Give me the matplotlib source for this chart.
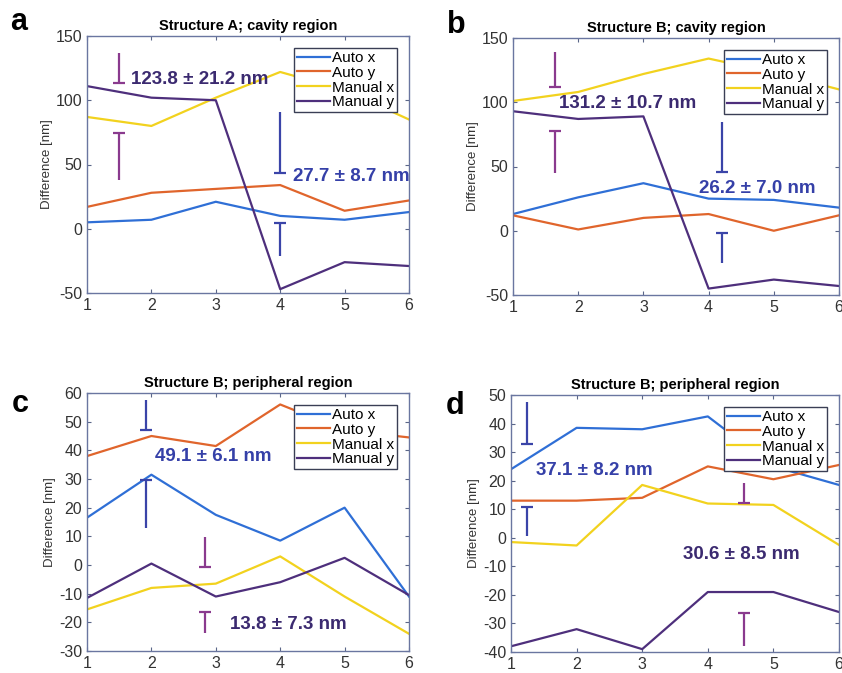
import matplotlib
matplotlib.use("Agg")
import matplotlib.pyplot as plt

plt.rcParams["font.family"] = ["Liberation Sans", "DejaVu Sans"]
plt.rcParams["axes.unicode_minus"] = False

W, H = 842, 673

positions = [1, 2, 3, 4, 5, 6]
series_names = ["Auto x", "Auto y", "Manual x", "Manual y"]
series_colors = ["#2f6fd6", "#e0652c", "#f2d21e", "#4e2f7c"]

titles = ["Structure A; cavity region", "Structure B; cavity region",
          "Structure B; peripheral region", "Structure B; peripheral region"]
panel_letters = ["a", "b", "c", "d"]
ylims = [(-50, 150), (-50, 150), (-30, 60), (-40, 50)]
yticks = [range(-50, 151, 50), range(-50, 151, 50),
          range(-30, 61, 10), range(-40, 51, 10)]

# values (panel -> series)
auto_x = [[5, 7, 21, 10, 7, 13],
          [13, 26, 37, 25, 24, 18],
          [16.5, 31.5, 17.5, 8.5, 20, -11],
          [24, 38.5, 38, 42.5, 25, 18.5]]
auto_y = [[17, 28, 31, 34, 14, 22],
          [12, 1, 10, 13, 0, 12],
          [38, 45, 41.5, 56, 47, 44.5],
          [13, 13, 14, 25, 20.5, 25.5]]
manual_x = [[87, 80, 102, 122, 108, 85],
            [101, 108, 122, 134, 123, 110],
            [-15.5, -8, -6.5, 3, -11, -24],
            [-1.5, -2.7, 18.5, 12, 11.5, -2.5]]
manual_y = [[111, 102, 100, -47, -26, -29],
            [93, 87, 89, -45, -38, -43],
            [-11.5, 0.5, -11, -6, 2.5, -10.5],
            [-38, -32, -39, -19, -19, -26]]

# spread markers: x, upper bar (top, cap), lower bar (cap, bottom)
bar1_x = [1.49, 1.65, 1.91, 1.24]
bar1_upper = [(137, 113.5), (139, 112), (57.7, 47.2), (47.7, 32.9)]
bar1_lower = [(74.4, 38), (77.8, 45), (29.8, 12.9), (10.7, 0.5)]
bar2_x = [3.99, 4.2, 2.83, 4.55]
bar2_upper = [(91, 43.3), (85, 46), (9.8, -0.7), (19.3, 12.1)]
bar2_lower = [(4.4, -21.5), (-2, -25), (-16.5, -23.7), (-26.3, -38)]

labels1 = ["123.8 ± 21.2 nm", "131.2 ± 10.7 nm", "49.1 ± 6.1 nm", "37.1 ± 8.2 nm"]
labels1_xy = [(1.69, 116.5), (1.71, 98.8), (2.05, 37.7), (1.38, 23.4)]
labels2 = ["27.7 ± 8.7 nm", "26.2 ± 7.0 nm", "13.8 ± 7.3 nm", "30.6 ± 8.5 nm"]
labels2_xy = [(4.2, 40.7), (3.85, 33), (3.22, -20.8), (3.62, -6)]

purple_bar = "#8a3a8e"
blue_bar = "#3a44a8"
purple_txt = "#3b2a70"
blue_txt = "#3540a8"
bar1_colors = [purple_bar, purple_bar, blue_bar, blue_bar]
bar2_colors = [blue_bar, blue_bar, purple_bar, purple_bar]
text1_colors = [purple_txt, purple_txt, blue_txt, blue_txt]
text2_colors = [blue_txt, blue_txt, purple_txt, purple_txt]

# axes boxes in pixels: left, right, top, bottom
boxes = [(87, 409, 36, 293), (513, 839, 38, 295),
         (87, 409, 393, 651), (511, 839, 395, 652)]
letter_xy = [(10, 30), (447, 33), (12, 412), (446, 414)]


def draw_bar(ax, x, seg, cap_at, color):
    ax.plot([x, x], list(seg), color=color, lw=1.6, solid_capstyle="butt")
    ax.plot([x], [cap_at], marker="_", markersize=9, markeredgewidth=1.6,
            color=color)


fig = plt.figure(figsize=(W / 100, H / 100), dpi=100)

for i in range(4):
    l, r, t, b = boxes[i]
    ax = fig.add_axes([l / W, 1 - b / H, (r - l) / W, (b - t) / H])
    data = [auto_x[i], auto_y[i], manual_x[i], manual_y[i]]
    for vals, name, col in zip(data, series_names, series_colors):
        ax.plot(positions, vals, color=col, lw=1.6, label=name)

    draw_bar(ax, bar1_x[i], bar1_upper[i], bar1_upper[i][1], bar1_colors[i])
    draw_bar(ax, bar1_x[i], bar1_lower[i], bar1_lower[i][0], bar1_colors[i])
    draw_bar(ax, bar2_x[i], bar2_upper[i], bar2_upper[i][1], bar2_colors[i])
    draw_bar(ax, bar2_x[i], bar2_lower[i], bar2_lower[i][0], bar2_colors[i])

    ax.text(*labels1_xy[i], labels1[i], color=text1_colors[i], fontsize=13.5,
            fontweight="bold", va="center", ha="left")
    ax.text(*labels2_xy[i], labels2[i], color=text2_colors[i], fontsize=13.5,
            fontweight="bold", va="center", ha="left", clip_on=True)

    ax.set_xlim(1, 6)
    ax.set_ylim(*ylims[i])
    ax.set_xticks(positions)
    ax.set_yticks(list(yticks[i]))
    ax.tick_params(direction="in", top=True, right=True, length=3,
                   labelsize=11.5, colors="#5a6688", labelcolor="#333333")
    for sp in ax.spines.values():
        sp.set_color("#6a76a0")
        sp.set_linewidth(1.0)
    ax.set_title(titles[i], fontsize=10.5, fontweight="bold", pad=4)
    ax.set_ylabel("Difference [nm]", fontsize=9.5, color="#333333", labelpad=2)

    leg_right = (r - 12 - l) / (r - l)
    leg_top = 1 - 12 / (b - t)
    leg = ax.legend(loc="upper right", bbox_to_anchor=(leg_right, leg_top),
                    borderaxespad=0, fontsize=11, handlelength=2.2,
                    handletextpad=0.1, labelspacing=0.05, borderpad=0.2,
                    fancybox=False, framealpha=1)
    leg.get_frame().set_edgecolor("#3a3f55")
    leg.get_frame().set_linewidth(1.0)

    fig.text(letter_xy[i][0] / W, 1 - letter_xy[i][1] / H, panel_letters[i],
             fontsize=22, fontweight="bold", ha="left", va="baseline")

fig.savefig("out.png", dpi=100)
